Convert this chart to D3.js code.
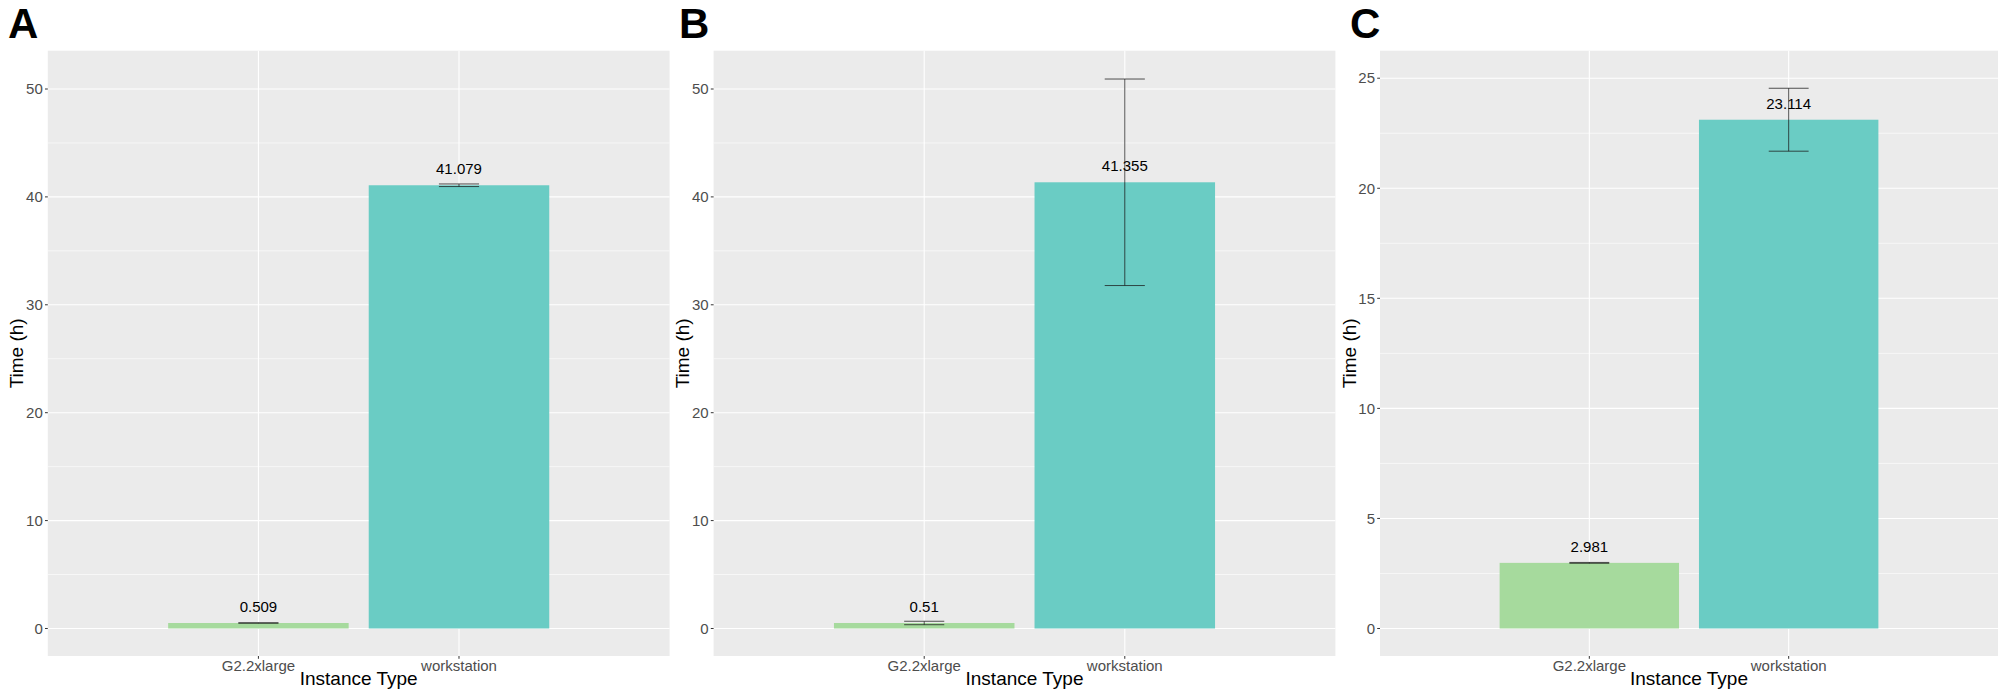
<!DOCTYPE html>
<html>
<head>
  <meta charset="utf-8">
  <title>Instance type timings</title>
  <script src="https://d3js.org/d3.v7.min.js"></script>
  <style>
    html, body {
      margin: 0;
      padding: 0;
      background: #fff;
    }
    svg text {
      font-family: "Liberation Sans", Arial, sans-serif;
    }
    .grid-major { stroke: #fff; stroke-width: 1.1; }
    .grid-minor { stroke: #fff; stroke-width: 0.6; }
    .tick-lab { fill: #4d4d4d; font-size: 15px; }
  </style>
</head>
<body>
  <svg id="chart" width="2013" height="700"></svg>

  <script>
    // data
    const categories = ["G2.2xlarge", "workstation"];
    const panelNames = ["A", "B", "C"];
    const meansA = [0.509, 41.079];
    const sdA = [0.02, 0.12];
    const meansB = [0.51, 41.355];
    const sdB = [0.16, 9.57];
    const meansC = [2.981, 23.114];
    const sdC = [0.02, 1.43];
    const ticksAB = [0, 10, 20, 30, 40, 50];
    const ticksC = [0, 5, 10, 15, 20, 25];
    const barColors = ["#a6da9d", "#6accc4"];

    // layout of each panel (pixels) and y limits (with ggplot-like expansion)
    const panels = [
      { name: panelNames[0], means: meansA, sd: sdA, ticks: ticksAB, ydom: [-2.55, 53.55], offset: 0,    left: 47.8,  right: 669.6 },
      { name: panelNames[1], means: meansB, sd: sdB, ticks: ticksAB, ydom: [-2.55, 53.55], offset: 671,  left: 713.6, right: 1335.4 },
      { name: panelNames[2], means: meansC, sd: sdC, ticks: ticksC,  ydom: [-1.25, 26.25], offset: 1342, left: 1380,  right: 1998 }
    ];
    const plotTop = 50.7, plotBottom = 656;

    const svg = d3.select("#chart");

    panels.forEach(p => {
      const g = svg.append("g");

      const y = d3.scaleLinear().domain(p.ydom).range([plotBottom, plotTop]);
      const x = d3.scaleLinear().domain([-0.05, 3.05]).range([p.left, p.right]);
      const barW = 0.9, whisk = 0.2;

      // panel background
      g.append("rect")
        .attr("x", p.left).attr("y", plotTop)
        .attr("width", p.right - p.left).attr("height", plotBottom - plotTop)
        .attr("fill", "#ebebeb");

      // minor grid (halfway between major ticks)
      const step = p.ticks[1] - p.ticks[0];
      const minor = p.ticks.map(t => t + step / 2).filter(t => y(t) > plotTop);
      g.selectAll(".grid-minor")
        .data(minor)
        .join("line")
        .attr("class", "grid-minor")
        .attr("x1", p.left).attr("x2", p.right)
        .attr("y1", d => y(d)).attr("y2", d => y(d));

      g.selectAll(".grid-major-y")
        .data(p.ticks)
        .join("line")
        .attr("class", "grid-major grid-major-y")
        .attr("x1", p.left).attr("x2", p.right)
        .attr("y1", d => y(d)).attr("y2", d => y(d));

      g.selectAll(".grid-major-x")
        .data(categories)
        .join("line")
        .attr("class", "grid-major grid-major-x")
        .attr("x1", (d, i) => x(i + 1)).attr("x2", (d, i) => x(i + 1))
        .attr("y1", plotTop).attr("y2", plotBottom);

      // bars
      g.selectAll(".bar")
        .data(p.means)
        .join("rect")
        .attr("class", "bar")
        .attr("x", (d, i) => x(i + 1 - barW / 2))
        .attr("width", x(barW) - x(0))
        .attr("y", d => y(d))
        .attr("height", d => y(0) - y(d))
        .attr("fill", (d, i) => barColors[i]);

      // error bars
      const eb = g.selectAll(".err")
        .data(p.means.map((m, i) => ({ m: m, s: p.sd[i], i: i })))
        .join("g")
        .attr("class", "err")
        .attr("stroke", "#1a1a1a")
        .attr("stroke-opacity", 0.75)
        .attr("stroke-width", 1);
      eb.append("line")
        .attr("x1", d => x(d.i + 1)).attr("x2", d => x(d.i + 1))
        .attr("y1", d => y(d.m + d.s)).attr("y2", d => y(d.m - d.s));
      eb.append("line")
        .attr("x1", d => x(d.i + 1 - whisk / 2)).attr("x2", d => x(d.i + 1 + whisk / 2))
        .attr("y1", d => y(d.m + d.s)).attr("y2", d => y(d.m + d.s));
      eb.append("line")
        .attr("x1", d => x(d.i + 1 - whisk / 2)).attr("x2", d => x(d.i + 1 + whisk / 2))
        .attr("y1", d => y(d.m - d.s)).attr("y2", d => y(d.m - d.s));

      // value labels
      g.selectAll(".val")
        .data(p.means)
        .join("text")
        .attr("class", "val")
        .attr("x", (d, i) => x(i + 1))
        .attr("y", d => y(d) - 11)
        .attr("text-anchor", "middle")
        .attr("font-size", 15)
        .attr("fill", "#000")
        .text(d => String(d));

      // y axis ticks + labels
      g.selectAll(".ytick")
        .data(p.ticks)
        .join("line")
        .attr("class", "ytick")
        .attr("x1", p.left - 2.8).attr("x2", p.left)
        .attr("y1", d => y(d)).attr("y2", d => y(d))
        .attr("stroke", "#333");
      g.selectAll(".ylab")
        .data(p.ticks)
        .join("text")
        .attr("class", "tick-lab ylab")
        .attr("x", p.left - 5)
        .attr("y", d => y(d))
        .attr("dy", "0.35em")
        .attr("text-anchor", "end")
        .text(d => d);

      // x axis ticks + labels
      g.selectAll(".xtick")
        .data(categories)
        .join("line")
        .attr("class", "xtick")
        .attr("x1", (d, i) => x(i + 1)).attr("x2", (d, i) => x(i + 1))
        .attr("y1", plotBottom).attr("y2", plotBottom + 2.8)
        .attr("stroke", "#333");
      g.selectAll(".xlab")
        .data(categories)
        .join("text")
        .attr("class", "tick-lab xlab")
        .attr("x", (d, i) => x(i + 1))
        .attr("y", 670.5)
        .attr("text-anchor", "middle")
        .text(d => d);

      // axis titles
      g.append("text")
        .attr("x", (p.left + p.right) / 2)
        .attr("y", 685)
        .attr("text-anchor", "middle")
        .attr("font-size", 19)
        .attr("fill", "#000")
        .text("Instance Type");
      g.append("text")
        .attr("transform", `translate(${p.left - 31},${(plotTop + plotBottom) / 2}) rotate(-90)`)
        .attr("dy", "0.35em")
        .attr("text-anchor", "middle")
        .attr("font-size", 19)
        .attr("fill", "#000")
        .text("Time (h)");

      // panel tag
      g.append("text")
        .attr("x", p.offset + 8)
        .attr("y", 38)
        .attr("font-size", 42)
        .attr("font-weight", "bold")
        .attr("fill", "#000")
        .text(p.name);
    });
  </script>
</body>
</html>
